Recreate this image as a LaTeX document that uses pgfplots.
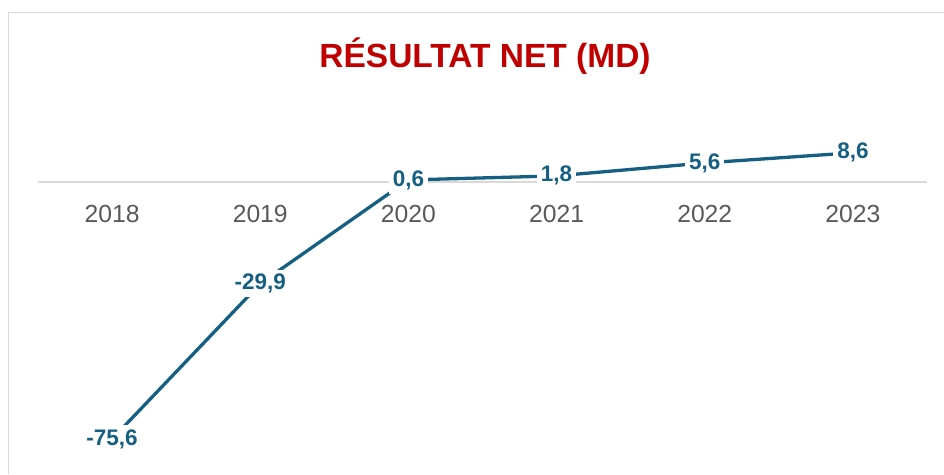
\documentclass[border=0pt]{standalone}
\usepackage{pgfplots}
\pgfplotsset{compat=1.18}
\usepackage{pgfplotstable}
\usepackage{fontspec}
\setmainfont{Liberation Sans}
\definecolor{lineblue}{HTML}{156082}
\definecolor{titlered}{HTML}{C00000}
\definecolor{ticktext}{HTML}{595959}
\definecolor{gridgray}{HTML}{D9D9D9}
\pgfplotstableread{
x y label
0 -75.6 -75,6
1 -29.9 -29,9
2 0.6 0,6
3 1.8 1,8
4 5.6 5,6
5 8.6 8,6
}\resdata
\begin{document}
\begin{tikzpicture}
\useasboundingbox (0,0) rectangle (944pt,474pt);
\fill[white] (0,0) rectangle (944pt,474pt);
\draw[gridgray, line width=1.3pt] (8.5pt,0) -- (8.5pt,461.5pt) -- (944pt,461.5pt);
\node[anchor=base, text=titlered, font=\bfseries\fontsize{33.5}{38}\selectfont] at (485pt,406pt) {RÉSULTAT NET (MD)};
\begin{axis}[
  at={(38pt,20pt)}, anchor=south west,
  scale only axis, width=889pt, height=357pt,
  xmin=-0.5, xmax=5.5, ymin=-80, ymax=25,
  axis x line=middle, axis y line=none,
  axis line style={-, gridgray, line width=1.5pt},
  xtick={0,1,2,3,4,5},
  xticklabels={2018,2019,2020,2021,2022,2023},
  major tick length=0pt,
  xticklabel style={anchor=north, yshift=-20pt, text=ticktext, font=\fontsize{24.7}{28}\selectfont},
  clip=false,
]
\addplot[lineblue, line width=3.3pt, mark=none,
  nodes near coords, point meta=explicit symbolic,
  every node near coord/.style={anchor=center, fill=white, inner sep=4pt, text=lineblue, font=\bfseries\fontsize{22.5}{26}\selectfont}]
  table[x=x, y=y, meta=label] {\resdata};
\end{axis}
\end{tikzpicture}
\end{document}
